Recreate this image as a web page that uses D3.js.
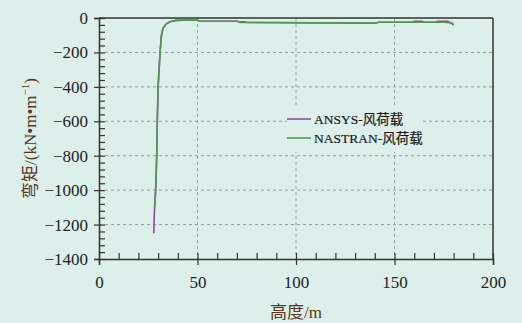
<!DOCTYPE html>
<html>
<head>
<meta charset="utf-8">
<script src="https://cdn.jsdelivr.net/npm/d3@7"></script>
<style>
  body { margin: 0; background: #dcefea; }
  svg { display: block; }
</style>
</head>
<body>
<div id="chart"></div>
<script>
// DATA
const xTicks = [0, 50, 100, 150, 200];
const yTicks = [0, -200, -400, -600, -800, -1000, -1200, -1400];

const ansysHeight = [27.8, 28.2, 28.8, 29.3, 29.6, 30, 30.5, 31, 31.7, 32.5, 34, 36, 39, 45, 50, 51, 70, 71, 74, 75, 140, 142, 159, 160, 164, 165, 171, 172, 177, 179, 180];
const ansysMoment = [-1250, -1100, -980, -800, -600, -400, -300, -200, -100, -60, -35, -22, -14, -12, -13, -18, -19, -22, -22, -26, -30, -25, -25, -19, -19, -25, -25, -19, -19, -30, -42];

const nastranHeight = [28.3, 28.8, 29.3, 29.6, 30, 30.5, 31, 31.7, 32.5, 34, 36, 39, 45, 50, 51, 70, 72, 140, 142, 175, 178, 180];
const nastranMoment = [-1100, -1000, -800, -600, -400, -300, -200, -100, -60, -35, -22, -14, -12, -13, -18, -19, -26, -30, -25, -25, -28, -34];

const seriesNames = ["ANSYS-风荷载", "NASTRAN-风荷载"];
const seriesColors = ["#8e4a9a", "#4f9a4f"];

// SIZE
const width = 522, height = 323;
const margin = { left: 99, right: 29, top: 18, bottom: 64 };
const serif = "'Liberation Serif', 'Noto Sans CJK SC', serif";

const svg = d3.select("#chart").append("svg")
  .attr("width", width)
  .attr("height", height);

svg.append("rect").attr("width", width).attr("height", height).attr("fill", "#dcefea");

// SCALES
const xScale = d3.scaleLinear().domain([0, 200]).range([margin.left, width - margin.right]);
const yScale = d3.scaleLinear().domain([-1400, 0]).range([height - margin.bottom, margin.top]);

// GRID
const grid = svg.append("g").attr("stroke", "#9a9a9a").attr("stroke-dasharray", "3,3").attr("stroke-width", 1);
grid.selectAll(".hg").data(yTicks.filter(d => d > -1400 && d < 0)).join("line")
  .attr("x1", xScale(0)).attr("x2", xScale(200))
  .attr("y1", d => yScale(d)).attr("y2", d => yScale(d));
grid.selectAll(".vg").data(xTicks.filter(d => d > 0 && d < 200)).join("line")
  .attr("y1", yScale(0)).attr("y2", yScale(-1400))
  .attr("x1", d => xScale(d)).attr("x2", d => xScale(d));

// LINES
const line = d3.line().x(d => xScale(d[0])).y(d => yScale(d[1]));
const ansys = d3.zip(ansysHeight, ansysMoment);
const nastran = d3.zip(nastranHeight, nastranMoment);

svg.append("path").datum(ansys)
  .attr("d", line).attr("fill", "none")
  .attr("stroke", seriesColors[0]).attr("stroke-width", 1.6);
svg.append("path").datum(nastran)
  .attr("d", line).attr("fill", "none")
  .attr("stroke", seriesColors[1]).attr("stroke-width", 1.6);

// FRAME (top, right)
svg.append("line").attr("x1", xScale(0)).attr("x2", xScale(200))
  .attr("y1", yScale(0)).attr("y2", yScale(0))
  .attr("stroke", "#333").attr("stroke-width", 1.5);
svg.append("line").attr("x1", xScale(200)).attr("x2", xScale(200))
  .attr("y1", yScale(0)).attr("y2", yScale(-1400))
  .attr("stroke", "#333").attr("stroke-width", 1.5);

// AXES
const fmt = d => d < 0 ? "\u2212" + Math.abs(d) : String(d);
const yAxis = d3.axisLeft(yScale).tickValues(yTicks).tickSize(5).tickPadding(6).tickFormat(fmt);
const yAxisGroup = svg.append("g").attr("transform", `translate(${margin.left},0)`).call(yAxis);
const yMinor = d3.axisRight(yScale).tickValues(d3.range(-1400, 1, 40)).tickSize(6).tickFormat("");
const yMinorGroup = svg.append("g").attr("transform", `translate(${margin.left},0)`).call(yMinor);

const xAxis = d3.axisBottom(xScale).tickValues(xTicks).tickSize(6).tickPadding(11).tickFormat(fmt);
const xAxisGroup = svg.append("g").attr("transform", `translate(0,${yScale(-1400)})`).call(xAxis);
const xMinor = d3.axisTop(xScale).tickValues(d3.range(0, 201, 10)).tickSize(6).tickFormat("");
const xMinorGroup = svg.append("g").attr("transform", `translate(0,${yScale(-1400)})`).call(xMinor);

[yAxisGroup, yMinorGroup, xAxisGroup, xMinorGroup].forEach(g => {
  g.attr("font-family", serif).attr("font-size", 17);
  g.select(".domain").attr("stroke", "#333").attr("stroke-width", 1.5);
  g.selectAll(".tick line").attr("stroke", "#333").attr("stroke-width", 1.2);
  g.selectAll(".tick text").attr("fill", "#222");
});
yMinorGroup.select(".domain").remove();
xMinorGroup.select(".domain").remove();

// AXIS TITLES
svg.append("text")
  .attr("x", xScale(100)).attr("y", 318)
  .attr("text-anchor", "middle")
  .attr("font-family", serif)
  .attr("font-size", 17).attr("fill", "#5a3420")
  .text("高度/m");

const yTitle = svg.append("text")
  .attr("transform", `translate(36,${yScale(-700)}) rotate(-90)`)
  .attr("text-anchor", "middle")
  .attr("font-family", serif)
  .attr("font-size", 17).attr("fill", "#5a3420");
yTitle.append("tspan").text("弯矩/(kN\u2022m\u2022m");
yTitle.append("tspan").attr("dy", -7).attr("font-size", 11).text("\u22121");
yTitle.append("tspan").attr("dy", 7).text(")");

// LEGEND
const legend = svg.append("g");
legend.append("rect")
  .attr("x", 287).attr("y", 106).attr("width", 136).attr("height", 46)
  .attr("fill", "#dcefea");
const items = legend.selectAll(".item").data(seriesNames).join("g")
  .attr("transform", (d, i) => `translate(287,${119 + i * 19})`);
items.append("line").attr("x1", 0).attr("x2", 24)
  .attr("stroke", (d, i) => seriesColors[i]).attr("stroke-width", 1.6);
items.append("text")
  .attr("x", 27).attr("y", 5)
  .attr("font-family", serif)
  .attr("font-size", 13.5).attr("fill", "#1a1a1a")
  .attr("stroke", "#1a1a1a").attr("stroke-width", 0.2)
  .text(d => d);
</script>
</body>
</html>
